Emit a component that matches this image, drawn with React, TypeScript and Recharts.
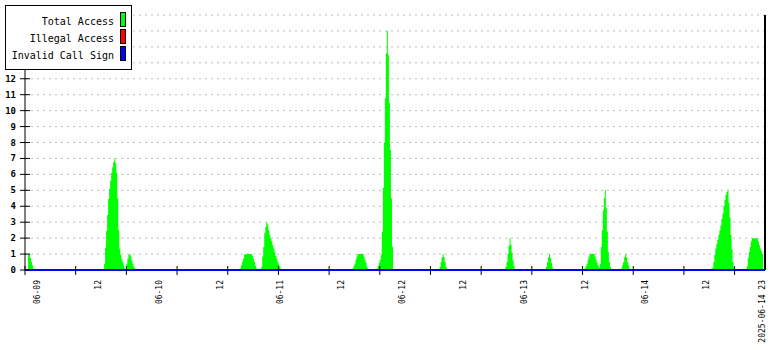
import React from 'react';
import {
  ComposedChart,
  Area,
  Line,
  XAxis,
  YAxis,
  CartesianGrid,
  ReferenceLine,
} from 'recharts';

// time axis: 2025-06-08 21:00 .. 2025-06-14 23:00, samples every 12 minutes
const AXIS_START = Date.UTC(2025, 5, 8, 21, 0);
const SPAN_HOURS = 146;
const STEP_HOURS = 0.2;

const tickTimes = [
  '06-08 21:00', '06-09 07:00', '06-09 17:00', '06-10 03:00', '06-10 13:00',
  '06-10 23:00', '06-11 09:00', '06-11 19:00', '06-12 05:00', '06-12 15:00',
  '06-13 01:00', '06-13 11:00', '06-13 21:00', '06-14 07:00', '06-14 17:00',
];

const labelTimes = [
  '06-09 00:00', '06-09 12:00', '06-10 00:00', '06-10 12:00', '06-11 00:00',
  '06-11 12:00', '06-12 00:00', '06-12 12:00', '06-13 00:00', '06-13 12:00',
  '06-14 00:00', '06-14 12:00', '06-14 23:00',
];
const labelTexts = [
  '06-09', '12', '06-10', '12', '06-11', '12', '06-12', '12', '06-13', '12',
  '06-14', '12', '2025-06-14 23',
];

const yTicks = [0, 1, 2, 3, 4, 5, 6, 7, 8, 9, 10, 11, 12, 13, 14, 15, 16];
const yLabelMax = 12; // 13..16 sit under the legend box

const legendNames = ['Total Access', 'Illegal Access', 'Invalid Call Sign'];
const legendColors = ['#00ff00', '#ff0000', '#0000ff'];

// Total Access, non-zero stretches (one value per 12 minutes)
const totalAccessBursts = [
  { start: '06-08 21:36', values: [1.0, 1.0, 0.75, 0.5, 0.3, 0.1] },
  {
    start: '06-09 12:36',
    values: [0.4, 1.4, 2.45, 3.45, 4.45, 5.1, 5.6, 6.1, 6.45, 6.8, 7.0, 6.7, 6.1, 4.5, 2.5, 1.35, 0.95, 0.7, 0.5, 0.3, 0.1,
      0, 0.4, 0.7, 0.95, 1.0, 0.85, 0.6, 0.4, 0.2, 0.1],
  },
  { start: '06-10 15:24', values: [0.1, 0.3, 0.5, 0.7, 0.95, 1, 1, 1, 1, 1, 1, 1, 0.9, 0.7, 0.5, 0.27, 0.1] },
  {
    start: '06-10 19:36',
    values: [0.2, 0.85, 1.45, 2.3, 2.7, 3.0, 2.85, 2.5, 2.2, 2.0, 1.8, 1.55, 1.35, 1.15, 0.9, 0.7, 0.5, 0.35, 0.2, 0.1, 0.05],
  },
  { start: '06-11 13:36', values: [0.1, 0.25, 0.4, 0.65, 0.85, 1, 1, 1, 1, 1, 1, 0.85, 0.65, 0.45, 0.2] },
  {
    start: '06-11 18:12',
    values: [0.05, 0.1, 0.25, 0.45, 0.65, 0.95, 2.4, 5.15, 8.0, 10.8, 13.6, 15.0, 13.5, 10.5, 7.55, 4.5, 1.47],
  },
  { start: '06-12 06:48', values: [0.2, 0.5, 0.8, 1.0, 0.8, 0.5, 0.2] },
  { start: '06-12 19:48', values: [0.2, 0.5, 1.0, 1.5, 2.0, 1.6, 1.1, 0.6, 0.25] },
  { start: '06-13 03:48', values: [0.2, 0.5, 0.8, 1.0, 0.75, 0.45, 0.15] },
  {
    start: '06-13 11:24',
    values: [0.1, 0.25, 0.4, 0.65, 0.85, 1, 1, 1, 1, 1, 0.85, 0.65, 0.45, 0.3, 0.15,
      0.4, 1.45, 2.5, 3.75, 4.5, 5.0, 3.9, 2.4, 1.15, 0.5, 0.2],
  },
  { start: '06-13 18:36', values: [0.1, 0.3, 0.5, 0.8, 1.0, 0.8, 0.5, 0.3, 0.1] },
  {
    start: '06-14 12:36',
    values: [0.15, 0.5, 0.95, 1.35, 1.65, 1.9, 2.2, 2.5, 2.8, 3.2, 3.55, 4.0, 4.4, 4.7, 4.9, 5.0, 4.2, 3.3, 2.2, 1.3, 0.5, 0.15],
  },
  { start: '06-14 19:24', values: [0.25, 0.75, 1.15, 1.45, 1.8, 2, 2, 2, 2, 2, 2, 1.8, 1.55, 1.35, 1.2, 1.0] },
];
const illegalAccessBursts: { start: string; values: number[] }[] = [];
const invalidCallSignBursts: { start: string; values: number[] }[] = [];

const toHours = (s: string) => {
  const [md, hm] = s.split(' ');
  const [mo, d] = md.split('-').map(Number);
  const [h, m] = hm.split(':').map(Number);
  return (Date.UTC(2025, mo - 1, d, h, m) - AXIS_START) / 3600000;
};

const fillSeries = (bursts: { start: string; values: number[] }[], n: number) => {
  const out = new Array(n).fill(0);
  bursts.forEach((b) => {
    const i0 = Math.round(toHours(b.start) / STEP_HOURS);
    b.values.forEach((v, k) => {
      if (i0 + k < n) out[i0 + k] = v;
    });
  });
  return out;
};

const N = Math.round(SPAN_HOURS / STEP_HOURS) + 1;
const totalSeries = fillSeries(totalAccessBursts, N);
const illegalSeries = fillSeries(illegalAccessBursts, N);
const invalidSeries = fillSeries(invalidCallSignBursts, N);

const data = totalSeries.map((v, i) => ({
  t: +(i * STEP_HOURS).toFixed(2),
  total: v,
  illegal: illegalSeries[i],
  invalid: invalidSeries[i],
}));

const tickHours = tickTimes.map(toHours);
const labelHours = labelTimes.map(toHours);

const FONT = '"DejaVu Sans Mono", "Liberation Mono", monospace';
const PLOT_LEFT = 25;
const PLOT_BOTTOM = 270;

const XTick = (props: any) => {
  const { x, payload } = props;
  const li = labelHours.findIndex((h) => Math.abs(h - payload.value) < 1e-6);
  if (li >= 0) {
    return (
      <text
        x={x}
        y={280}
        transform={`rotate(-90, ${x}, 280)`}
        textAnchor="end"
        fontFamily={FONT}
        fontSize={8}
        fill="#000"
      >
        {labelTexts[li]}
      </text>
    );
  }
  return <line x1={x} x2={x} y1={PLOT_BOTTOM - 4} y2={PLOT_BOTTOM + 5} stroke="#000" />;
};

const YTick = (props: any) => {
  const { y, payload } = props;
  return (
    <g>
      <line x1={PLOT_LEFT - 5} x2={PLOT_LEFT + 5} y1={y} y2={y} stroke="#000" />
      {payload.value <= yLabelMax && (
        <text
          x={PLOT_LEFT - 9}
          y={y}
          textAnchor="end"
          dominantBaseline="central"
          fontFamily={FONT}
          fontSize={9}
          fontWeight="bold"
          fill="#000"
        >
          {payload.value}
        </text>
      )}
    </g>
  );
};

const App: React.FC = () => {
  return (
    <div style={{ position: 'absolute', left: 0, top: 0, width: 780, height: 350, background: '#fff' }}>
      <ComposedChart
        width={780}
        height={350}
        data={data}
        margin={{ top: 15, right: 15, bottom: 0, left: 0 }}
      >
        <CartesianGrid vertical={false} stroke="#bbbbbb" strokeDasharray="2 4" />
        <XAxis
          dataKey="t"
          type="number"
          domain={[0, SPAN_HOURS]}
          ticks={[...tickHours, ...labelHours]}
          interval={0}
          height={80}
          tickLine={false}
          axisLine={false}
          tick={<XTick />}
        />
        <YAxis
          domain={[0, 16]}
          ticks={yTicks}
          interval={0}
          width={25}
          tickLine={false}
          axisLine={{ stroke: '#000' }}
          tick={<YTick />}
        />
        <Area
          type="stepAfter"
          dataKey="total"
          fill="#00ff00"
          fillOpacity={1}
          stroke="none"
          isAnimationActive={false}
        />
        <ReferenceLine x={SPAN_HOURS} stroke="#000" strokeWidth={2} />
        <Line type="linear" dataKey="illegal" stroke="#ff0000" strokeWidth={1} dot={false} isAnimationActive={false} />
        <Line type="linear" dataKey="invalid" stroke="#0000ff" strokeWidth={2} dot={false} isAnimationActive={false} />
      </ComposedChart>
      <div
        style={{
          position: 'absolute',
          left: 5,
          top: 5,
          width: 127,
          height: 65,
          border: '1px solid #000',
          background: '#fff',
          boxSizing: 'border-box',
          fontFamily: FONT,
          fontSize: 10,
        }}
      >
        {legendNames.map((name, i) => (
          <div
            key={name}
            style={{
              position: 'absolute',
              top: 6 + i * 16.8,
              right: 5,
              height: 15,
              display: 'flex',
              alignItems: 'center',
              whiteSpace: 'nowrap',
            }}
          >
            <span style={{ marginRight: 6, lineHeight: '15px', paddingTop: 4 }}>{name}</span>
            <span
              style={{
                display: 'inline-block',
                width: 6,
                height: 15,
                boxSizing: 'border-box',
                border: '1px solid #000',
                background: legendColors[i],
              }}
            />
          </div>
        ))}
      </div>
    </div>
  );
};

export default App;
